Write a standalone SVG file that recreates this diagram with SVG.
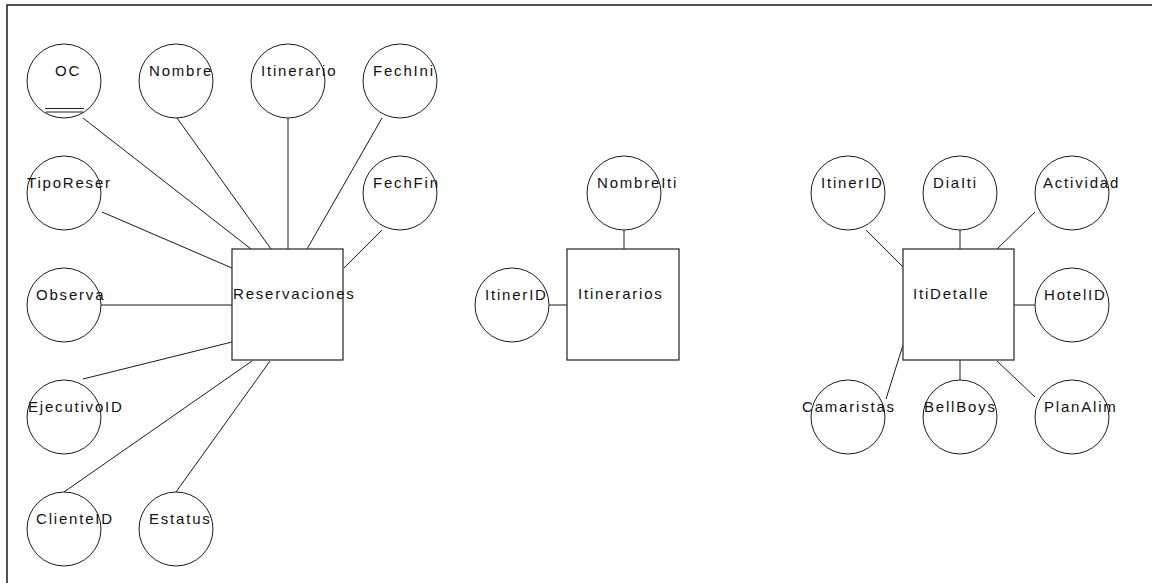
<svg xmlns="http://www.w3.org/2000/svg" width="1152" height="583" viewBox="0 0 1152 583">
  <style>
    .attr { fill: #ffffff; stroke: #1a1a1a; stroke-width: 1; }
    .ent { fill: #ffffff; stroke: #333333; stroke-width: 1.3; }
    .lbl { font-family: "Liberation Sans", Arial, sans-serif; font-size: 15px; letter-spacing: 1.8px; fill: #111111; }
    .link { stroke: #1a1a1a; stroke-width: 1; fill: none; }
    .frame { stroke: #1a1a1a; stroke-width: 1.5; fill: none; }
  </style>
  <rect width="1152" height="583" fill="#ffffff"/>
  <!-- page frame: top and left edges -->
  <path class="frame" d="M7,583 V5 H1152"/>

  <!-- connectors -->
  <g id="connectors">
    <!-- Reservaciones -->
    <line class="link" x1="83" y1="118" x2="251" y2="249"/>
    <line class="link" x1="177" y1="118" x2="271" y2="249"/>
    <line class="link" x1="288" y1="118" x2="288" y2="249"/>
    <line class="link" x1="382" y1="118" x2="307" y2="249"/>
    <line class="link" x1="382" y1="230" x2="344" y2="268"/>
    <line class="link" x1="102" y1="212" x2="232" y2="268"/>
    <line class="link" x1="101" y1="305" x2="232" y2="305"/>
    <line class="link" x1="83" y1="379" x2="232" y2="342"/>
    <line class="link" x1="64" y1="492" x2="252" y2="361"/>
    <line class="link" x1="176" y1="492" x2="270" y2="361"/>
    <!-- Itinerarios -->
    <line class="link" x1="624" y1="230" x2="624" y2="249"/>
    <line class="link" x1="549" y1="305" x2="567" y2="305"/>
    <!-- ItiDetalle -->
    <line class="link" x1="866" y1="230" x2="903" y2="267"/>
    <line class="link" x1="960" y1="230" x2="960" y2="249"/>
    <line class="link" x1="1035" y1="212" x2="997" y2="249"/>
    <line class="link" x1="1014" y1="305" x2="1035" y2="305"/>
    <line class="link" x1="886" y1="399" x2="903" y2="345"/>
    <line class="link" x1="960" y1="360" x2="960" y2="381"/>
    <line class="link" x1="997" y1="361" x2="1035" y2="397"/>
  </g>

  <!-- Reservaciones entity and attributes -->
  <g id="reservaciones">
    <rect class="ent" x="232" y="249" width="111" height="111"/>
    <text class="lbl" x="233" y="299">Reservaciones</text>
  </g>
  <g id="oc">
    <circle class="attr" cx="64" cy="81" r="37"/>
    <text class="lbl" x="55" y="76">OC</text>
    <line class="link" x1="45" y1="108.5" x2="84" y2="108.5"/>
    <line class="link" x1="46" y1="112" x2="83" y2="112"/>
  </g>
  <g id="nombre">
    <circle class="attr" cx="176" cy="81" r="37"/>
    <text class="lbl" x="149" y="76">Nombre</text>
  </g>
  <g id="itinerario">
    <circle class="attr" cx="288" cy="81" r="37"/>
    <text class="lbl" x="261" y="76">Itinerario</text>
  </g>
  <g id="fechini">
    <circle class="attr" cx="400" cy="81" r="37"/>
    <text class="lbl" x="373" y="76">FechIni</text>
  </g>
  <g id="tiporeser">
    <circle class="attr" cx="64" cy="193" r="37"/>
    <text class="lbl" x="27" y="188">TipoReser</text>
  </g>
  <g id="fechfin">
    <circle class="attr" cx="400" cy="193" r="37"/>
    <text class="lbl" x="373" y="188">FechFin</text>
  </g>
  <g id="observa">
    <circle class="attr" cx="64" cy="305" r="37"/>
    <text class="lbl" x="36" y="300">Observa</text>
  </g>
  <g id="ejecutivoid">
    <circle class="attr" cx="64" cy="417" r="37"/>
    <text class="lbl" x="28" y="412">EjecutivoID</text>
  </g>
  <g id="clienteid">
    <circle class="attr" cx="64" cy="529" r="37"/>
    <text class="lbl" x="36" y="524">ClienteID</text>
  </g>
  <g id="estatus">
    <circle class="attr" cx="176" cy="529" r="37"/>
    <text class="lbl" x="149" y="524">Estatus</text>
  </g>

  <!-- Itinerarios entity and attributes -->
  <g id="itinerarios">
    <rect class="ent" x="567" y="249" width="112" height="111"/>
    <text class="lbl" x="578" y="299">Itinerarios</text>
  </g>
  <g id="nombreiti">
    <circle class="attr" cx="624" cy="193" r="37"/>
    <text class="lbl" x="597" y="188">NombreIti</text>
  </g>
  <g id="itinerid-1">
    <circle class="attr" cx="512" cy="305" r="37"/>
    <text class="lbl" x="485" y="300">ItinerID</text>
  </g>

  <!-- ItiDetalle entity and attributes -->
  <g id="itidetalle">
    <rect class="ent" x="903" y="249" width="111" height="111"/>
    <text class="lbl" x="913" y="299">ItiDetalle</text>
  </g>
  <g id="itinerid-2">
    <circle class="attr" cx="848" cy="193" r="37"/>
    <text class="lbl" x="821" y="188">ItinerID</text>
  </g>
  <g id="diaiti">
    <circle class="attr" cx="960" cy="193" r="37"/>
    <text class="lbl" x="933" y="188">DiaIti</text>
  </g>
  <g id="actividad">
    <circle class="attr" cx="1072" cy="193" r="37"/>
    <text class="lbl" x="1043" y="188">Actividad</text>
  </g>
  <g id="hotelid">
    <circle class="attr" cx="1072" cy="305" r="37"/>
    <text class="lbl" x="1044" y="300">HotelID</text>
  </g>
  <g id="camaristas">
    <circle class="attr" cx="848" cy="417" r="37"/>
    <text class="lbl" x="802" y="412">Camaristas</text>
  </g>
  <g id="bellboys">
    <circle class="attr" cx="960" cy="417" r="37"/>
    <text class="lbl" x="924" y="412">BellBoys</text>
  </g>
  <g id="planalim">
    <circle class="attr" cx="1072" cy="417" r="37"/>
    <text class="lbl" x="1044" y="412">PlanAlim</text>
  </g>
</svg>
